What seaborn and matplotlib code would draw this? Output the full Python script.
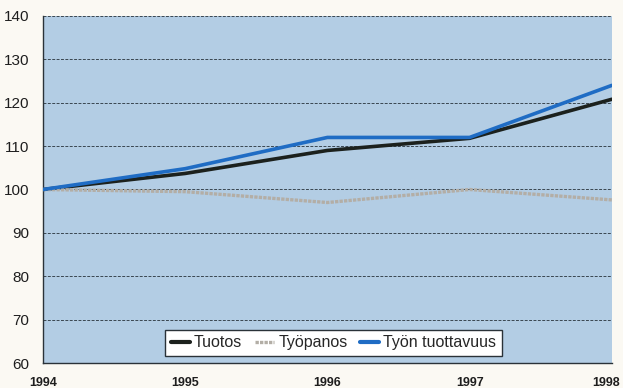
import matplotlib
matplotlib.use("Agg")
import matplotlib.pyplot as plt
import matplotlib.transforms as mtransforms
import seaborn as sns
import pandas as pd

years = [1994, 1995, 1996, 1997, 1998]
tuotos = [100, 103.7, 109, 111.8, 120.8]
tyopanos = [100, 99.5, 97, 100, 97.6]
tuottavuus = [100, 104.8, 112, 112, 124]
series_names = ["Tuotos", "Työpanos", "Työn tuottavuus"]
y_ticks = [60, 70, 80, 90, 100, 110, 120, 130, 140]

df = pd.DataFrame({
    "vuosi": years * 3,
    "arvo": tuotos + tyopanos + tuottavuus,
    "sarja": [series_names[0]] * 5 + [series_names[1]] * 5 + [series_names[2]] * 5,
})

sns.set_style("white")
plt.rcParams["font.family"] = ["Liberation Sans Narrow", "Liberation Sans", "DejaVu Sans"]

fig = plt.figure(figsize=(6.23, 3.88), dpi=100, facecolor="#fbf9f3")
ax = fig.add_axes([0.069, 0.0644, 0.913, 0.8944])
ax.set_facecolor("#b3cde4")

palette = {"Tuotos": "#1c211d", "Työpanos": "#b3aea6", "Työn tuottavuus": "#1f6cc4"}
dotted = (0, (1.0, 0.35))
sns.lineplot(data=df, x="vuosi", y="arvo", hue="sarja", palette=palette,
             hue_order=series_names, linewidth=2.6, ax=ax, legend=False, zorder=3)
ax.lines[1].set_linewidth(2.4)
ax.lines[1].set_linestyle(dotted)

ax.set_xlim(1994, 1998)
ax.set_ylim(60, 140)
ax.set_yticks(y_ticks)
ax.set_xticks(years)
ax.grid(axis="y", color="#3a4650", linestyle=(0, (3, 1.5)), linewidth=0.7, zorder=1)
ax.set_xlabel("")
ax.set_ylabel("")

for side in ["top", "right"]:
    ax.spines[side].set_visible(False)
for side in ["left", "bottom"]:
    ax.spines[side].set_color("#2a3238")
    ax.spines[side].set_linewidth(1.0)

ax.tick_params(axis="y", length=0, pad=10, labelsize=11, labelcolor="#1e1e1e")
ax.tick_params(axis="x", length=0, pad=10, labelsize=9, labelcolor="#1e1e1e")
xlabels = ax.get_xticklabels()
for lbl in xlabels:
    lbl.set_fontweight("bold")
# keep the last year label inside the figure edge
xlabels[-1].set_transform(xlabels[-1].get_transform() +
                          mtransforms.ScaledTranslation(-6 / 100, 0, fig.dpi_scale_trans))

handles = [plt.Line2D([], [], color=palette[n], linewidth=3 if n != "Työpanos" else 2.4,
                      linestyle="-" if n != "Työpanos" else dotted)
           for n in series_names]
leg = ax.legend(handles, series_names, loc="lower center", bbox_to_anchor=(0.511, 0.02),
                borderaxespad=0, ncol=3, frameon=True, fancybox=False, fontsize=11.5,
                handlelength=1.2, handletextpad=0.25, columnspacing=0.8,
                borderpad=0.35, edgecolor="#2a3238", facecolor="white")
leg.get_frame().set_linewidth(1.0)
leg.get_frame().set_alpha(1.0)

fig.savefig("out.png", dpi=100, facecolor=fig.get_facecolor())
